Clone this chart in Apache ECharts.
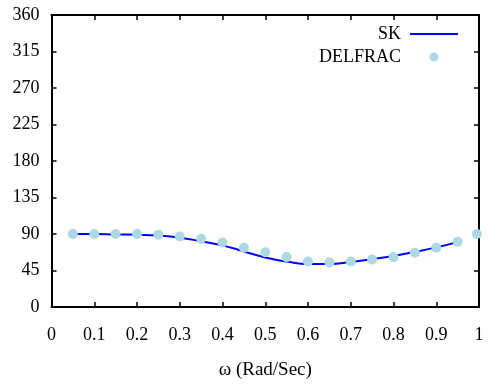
<!DOCTYPE html>
<html><head><meta charset="utf-8">
<script src="https://cdn.jsdelivr.net/npm/echarts@6/dist/echarts.min.js"></script>
<style>html,body{margin:0;padding:0;background:#fff}#c{width:489px;height:385px}</style>
</head><body><div id="c"></div>
<script>
const skX = [0.05,0.1,0.15,0.2,0.25,0.3,0.35,0.4,0.45,0.5,0.55,0.6,0.65,0.7,0.75,0.8,0.85,0.9,0.95];
const skY = [90,90,89.5,89,88,85.5,81,76,68.5,61,56,53,53,55.5,59,63,68,73.5,80];
const delX = [0.05,0.1,0.15,0.2,0.25,0.3,0.35,0.4,0.45,0.5,0.55,0.6,0.65,0.7,0.75,0.8,0.85,0.9,0.95,0.995];
const delY = [90,90,90,90,89,87,84,79.5,73,67.5,61.5,56,55,56,58.5,61.5,67,73,80.5,90];
const xTicks = [0,0.1,0.2,0.3,0.4,0.5,0.6,0.7,0.8,0.9,1];
const yTicks = [0,45,90,135,180,225,270,315,360];

const FONT = 'Liberation Serif';
const chart = echarts.init(document.getElementById('c'), null, {renderer:'canvas'});
const axisLine = {show:true, onZero:false, lineStyle:{color:'#000', width:2}};
const tick = {show:true, inside:true, length:5, lineStyle:{color:'#000', width:1.5}};
chart.setOption({
  animation:false,
  backgroundColor:'#fff',
  grid:{left:51.5, right:10, top:15, bottom:76, containLabel:false},
  legend:{
    orient:'vertical', right:26, top:20, align:'right',
    itemWidth:48, itemHeight:9, itemGap:5,
    textStyle:{fontFamily:FONT, fontSize:18, color:'#000', lineHeight:18, padding:[0,4,0,0]},
    data:[{name:'SK', icon:'path://M0,0 L48,0 L48,2 L0,2 Z'},{name:'DELFRAC', icon:'circle'}]
  },
  xAxis:[{
    type:'value', min:0, max:1, interval:0.1, position:'bottom',
    axisLine, axisTick:tick, splitLine:{show:false},
    axisLabel:{fontFamily:FONT, fontSize:18, color:'#000', margin:19,
      formatter:v=>{const t=xTicks.find(x=>Math.abs(x-v)<1e-9);return t===undefined?'':String(t);}},
    name:'ω (Rad/Sec)', nameLocation:'middle', nameGap:54,
    nameTextStyle:{fontFamily:FONT, fontSize:19, color:'#000'}
  },{
    type:'value', min:0, max:1, interval:0.1, position:'top',
    axisLine, axisTick:tick, axisLabel:{show:false}, splitLine:{show:false}
  }],
  yAxis:[{
    type:'value', min:0, max:360, interval:45, position:'left',
    axisLine, axisTick:tick, splitLine:{show:false},
    axisLabel:{fontFamily:FONT, fontSize:18, color:'#000', margin:12,
      formatter:v=>{const t=yTicks.find(x=>Math.abs(x-v)<1e-9);return t===undefined?'':String(t);}}
  },{
    type:'value', min:0, max:360, interval:45, position:'right',
    axisLine, axisTick:tick, axisLabel:{show:false}, splitLine:{show:false}
  }],
  series:[{
    name:'SK', type:'line', smooth:true, symbol:'none',
    lineStyle:{color:'#0000ff', width:2}, itemStyle:{color:'#0000ff'},
    data: skX.map((x,i)=>[x, skY[i]]), z:2
  },{
    name:'DELFRAC', type:'scatter', symbol:'circle', symbolSize:10,
    itemStyle:{color:'#add8e6', opacity:1}, clip:false,
    data: delX.map((x,i)=>[x, delY[i]]), z:3
  }]
});
</script></body></html>
